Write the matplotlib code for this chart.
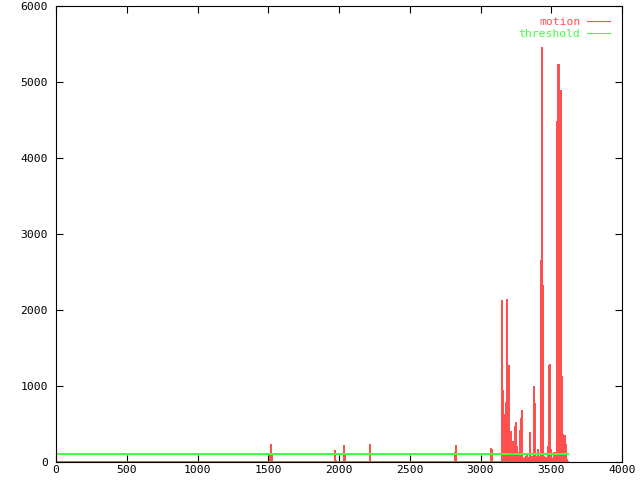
import numpy as np
import matplotlib
matplotlib.use("Agg")
import matplotlib.pyplot as plt

# frame count and threshold level
n_frames = 3618
threshold = 100

# isolated spikes before the busy part (frame, motion)
spike_frames = [1515, 1522, 1974, 2038, 2221, 2823, 2827, 3075, 3080]
spike_vals = [80, 224, 145, 210, 224, 122, 210, 171, 160]

# busy part: one peak value roughly every 7 frames starting at frame 3152
dense_start = 3152
dense_step = 7
dense_peaks = [2120, 938, 618, 57, 776, 2132, 202, 1263, 316, 395,
               202, 263, 132, 461, 517, 202, 118, 118, 408, 566,
               671, 40, 30, 57, 60, 88, 57, 57, 386, 48,
               70, 50, 991, 763, 50, 70, 158, 50, 60, 158,
               5450, 2316, 55, 60, 50, 55, 60, 215, 1276, 158,
               50, 40, 50, 118, 70, 100, 4474, 5224, 2421, 4887,
               1224, 395, 355, 333, 340, 60]

frames = np.arange(n_frames)
motion = np.zeros(n_frames)
motion[spike_frames] = spike_vals
for i, v in enumerate(dense_peaks):
    motion[dense_start + dense_step * i] = v
thresh = np.full(n_frames, threshold)

plt.rcParams['font.family'] = ['DejaVu Sans Mono']

fig = plt.figure(figsize=(6.4, 4.8), dpi=100)
ax = fig.add_axes([56/640, 18/480, 566/640, 456/480])

ax.plot(frames, motion, color='#ff5050', lw=0.8, label='motion', antialiased=False)
ax.plot(frames, thresh, color='#40ff40', lw=0.8, label='threshold', antialiased=False)

ax.set_xlim(0, 4000)
ax.set_ylim(0, 6000)
ax.set_xticks(np.arange(0, 4001, 500))
ax.set_yticks(np.arange(0, 6001, 1000))
ax.tick_params(direction='in', length=5, width=0.8, top=True, right=True,
               labelsize=8.2)
ax.tick_params(axis='y', pad=6)
ax.tick_params(axis='x', pad=2)
for s in ax.spines.values():
    s.set_linewidth(0.8)

leg = ax.legend(loc='upper right', bbox_to_anchor=(0.979, 0.975), frameon=False,
                markerfirst=False, labelcolor='linecolor', handlelength=2.0,
                handletextpad=0.6, labelspacing=0.1, fontsize=8.2,
                borderpad=0, borderaxespad=0)

fig.savefig('out.png', dpi=100)
